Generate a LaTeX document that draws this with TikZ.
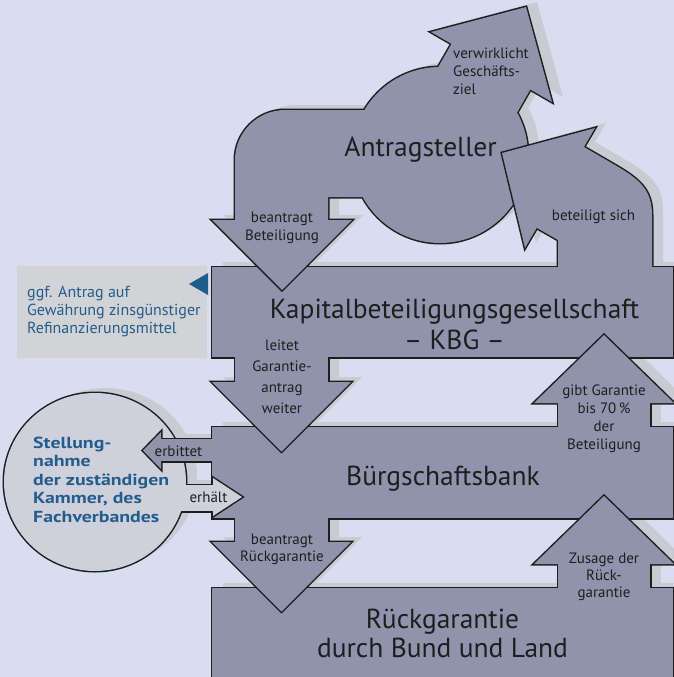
\documentclass[tikz,border=0pt]{standalone}
\usepackage{fontspec}
\setmainfont{PT Sans}
\usepackage{graphicx}
\definecolor{bg}{HTML}{D8DEEF}
\definecolor{body}{HTML}{8F94AC}
\definecolor{shadowc}{HTML}{C9CBD3}
\definecolor{ellc}{HTML}{CED1DC}
\definecolor{infoc}{HTML}{D1D3D7}
\definecolor{tric}{HTML}{1E5C8C}
\definecolor{bluet}{HTML}{245C8C}
\definecolor{ink}{HTML}{1E1E1E}
\newcommand\ml[2]{\begin{tabular}[t]{@{}#1@{}}#2\end{tabular}}
\newcommand\ASpieces[1]{%
  \path[#1] (440,155) circle[radius=88];
  \path[#1] (370,110) -- (285,110) .. controls (257.4,110) and (235,132.4) .. (235,160) -- (235,225) -- (328,225) -- (328,197) -- (380,197) -- cycle;
  \path[#1] (212,220) -- (352,220) -- (282,290) -- cycle;
  \path[#1] (431,32) -- (526,7) -- (552,102) -- cycle;
  \path[#1] (453.5,40.4) -- (531.5,87.4) -- (505.1,133.4) -- (427.1,86.4) -- cycle;}
\newcommand\KBGpieces[1]{%
  \path[#1] (212,267) rectangle (672.5,357);
  \path[#1] (235,350) rectangle (328,387);
  \path[#1] (212,382) -- (351,382) -- (281.5,451.5) -- cycle;
  \path[#1] (595,128) -- (525,248) -- (502,153) -- cycle;
  \path[#1] (581.4,145.5) -- (615,165) .. controls (640,179.6) and (652,190) .. (652,215) -- (652,275) -- (558,275) -- (558,240) -- (534.4,226.5) -- cycle;}
\newcommand\BBpieces[1]{%
  \path[#1] (212,427) rectangle (672.5,518);
  \path[#1] (558,398) rectangle (650,432);
  \path[#1] (534,403) -- (674,403) -- (604,335) -- cycle;
  \path[#1] (158,439) rectangle (220,461);
  \path[#1] (161,432) -- (161,469) -- (143,450.5) -- cycle;
  \path[#1] (235,510) rectangle (328,547);
  \path[#1] (212,542) -- (351,542) -- (281.5,611.5) -- cycle;}
\newcommand\RGpieces[1]{%
  \path[#1] (212,588) rectangle (672.5,690);
  \path[#1] (558,559) rectangle (650,593);
  \path[#1] (534,564) -- (674,564) -- (604,496) -- cycle;}
\newcommand\STell[1]{\path[#1] (95,482) ellipse[x radius=91, y radius=89];}
\newcommand\STarr[1]{%
  \path[#1] (150,485) rectangle (216,511);
  \path[#1] (213,478) -- (213,516) -- (242,497) -- cycle;}
\tikzset{
  outl/.style={draw=ink, line width=3pt, line join=miter, miter limit=10},
  shad/.style={fill=shadowc, shift={(11,-5)}},
  lab/.style={inner sep=0pt, text=ink},
}
\begin{document}
\begin{tikzpicture}[x=1pt,y=-1pt]
\useasboundingbox (0,0) rectangle (674,677);
\fill[bg] (0,0) rectangle (674,677);
% info box
\fill[infoc] (17,266) rectangle (207,358);
\fill[tric] (189,284) -- (208,273) -- (208,295) -- cycle;
% shadows
\ASpieces{shad}
\KBGpieces{shad}
\BBpieces{shad}
\RGpieces{shad}
\STell{shad}
\STarr{shad}
% Antragsteller
\ASpieces{outl}
\ASpieces{fill=body}
% KBG
\KBGpieces{outl}
\KBGpieces{fill=body}
\begin{scope}
  \clip (200,264.5) rectangle (370,300);
  \path[outl] (212,220) -- (352,220) -- (282,290) -- cycle;
  \path[fill=body] (212,220) -- (352,220) -- (282,290) -- cycle;
\end{scope}
% Stellungnahme ellipse
\STell{outl}
\STarr{outl}
\STell{fill=ellc}
\STarr{fill=ellc}
% Buergschaftsbank
\BBpieces{outl}
\BBpieces{fill=body}
\begin{scope}
  \clip (200,424.5) rectangle (370,460);
  \path[outl] (212,382) -- (351,382) -- (281.5,451.5) -- cycle;
  \path[fill=body] (212,382) -- (351,382) -- (281.5,451.5) -- cycle;
\end{scope}
\begin{scope}
  \clip (209,470) rectangle (250,525);
  \STarr{outl}
  \STarr{fill=ellc}
\end{scope}
% Rueckgarantie
\RGpieces{outl}
\RGpieces{fill=body}
\begin{scope}
  \clip (200,585.5) rectangle (370,620);
  \path[outl] (212,542) -- (351,542) -- (281.5,611.5) -- cycle;
  \path[fill=body] (212,542) -- (351,542) -- (281.5,611.5) -- cycle;
\end{scope}
% texts
\node[lab, font=\fontsize{27.5}{30}\selectfont, anchor=base] (tAS) at (420.5,156) {Antragsteller};
\node[lab, font=\fontsize{27.5}{31}\selectfont, anchor=base] (tKBG) at (454.5,318) {\ml{c}{Kapitalbeteiligungsgesellschaft\\– KBG –}};
\node[lab, font=\fontsize{27.5}{30}\selectfont, anchor=base] (tBB) at (443,485) {Bürgschaftsbank};
\node[lab, font=\fontsize{27.5}{29}\selectfont, anchor=base] (tRG) at (442.5,628) {\ml{c}{Rückgarantie\\durch Bund und Land}};
\node[lab, font=\fontsize{15}{18.3}\selectfont, anchor=base west] (tVZ) at (453,58.3) {\ml{l}{verwirklicht\\Geschäfts-\\ziel}};
\node[lab, font=\fontsize{15}{17.5}\selectfont, anchor=base] (tBT) at (282,222.7) {\ml{c}{beantragt\\Beteiligung}};
\node[lab, font=\fontsize{15}{18}\selectfont, anchor=base] (tBS) at (593.5,220.7) {beteiligt sich};
\node[lab, font=\fontsize{15}{21.3}\selectfont, anchor=base] (tLG) at (282,350) {\ml{c}{leitet\\Garantie-\\antrag\\weiter}};
\node[lab, font=\fontsize{15}{18}\selectfont, anchor=base] (tGG) at (604,395) {\ml{c}{gibt Garantie\\bis 70\,\%\\der\\Beteiligung}};
\node[lab, font=\fontsize{15}{17}\selectfont, anchor=base] (tZR) at (604,563.3) {\ml{c}{Zusage der\\Rück-\\garantie}};
\node[lab, font=\fontsize{15}{17.4}\selectfont, anchor=base] (tBR) at (282,544.3) {\ml{c}{beantragt\\Rückgarantie}};
\node[lab, font=\fontsize{15}{18}\selectfont, anchor=base] (tEB) at (178.5,456.7) {erbittet};
\node[lab, font=\fontsize{15}{18}\selectfont, anchor=base] (tEH) at (208.5,502.7) {erhält};
\node[lab, text=bluet, font=\fontsize{16}{18.5}\selectfont\bfseries, anchor=base west] (tST) at (33,448.3) {\scalebox{1.24}[1]{\ml{l}{Stellung-\\nahme\\der zuständigen\\Kammer, des\\Fachverbandes}}};
\node[lab, text=bluet, font=\fontsize{16}{18}\selectfont, anchor=base west] (tINF) at (27,297.3) {\ml{l}{ggf. Antrag auf\\Gewährung zinsgünstiger\\Refinanzierungsmittel}};
\end{tikzpicture}
\end{document}
